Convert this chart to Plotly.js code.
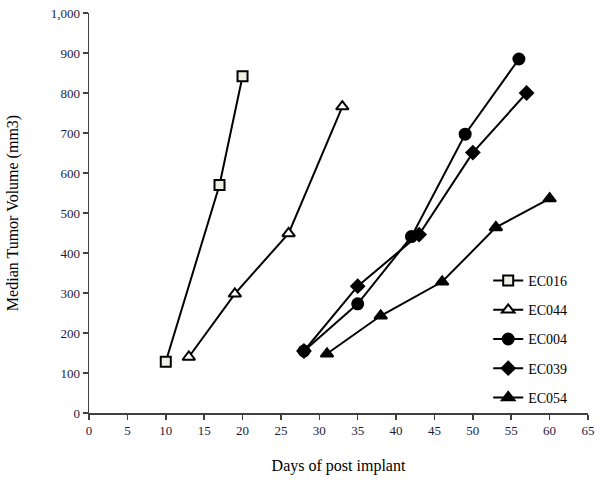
<!DOCTYPE html>
<html>
<head>
<meta charset="utf-8">
<script src="https://cdn.plot.ly/plotly-3.0.1.min.js"></script>
<style>html,body{margin:0;padding:0;background:#fff;}#chart{width:600px;height:486px;}</style>
</head>
<body>
<div id="chart"></div>
<script>
const seriesNames = ["EC016", "EC044", "EC004", "EC039", "EC054"];
const daysEC016 = [10, 17, 20];
const volEC016 = [128, 570, 842];
const daysEC044 = [13, 19, 26, 33];
const volEC044 = [140, 298, 449, 766];
const daysEC004 = [28, 35, 42, 49, 56];
const volEC004 = [155, 273, 441, 697, 885];
const daysEC039 = [28, 35, 43, 50, 57];
const volEC039 = [155, 317, 446, 651, 800];
const daysEC054 = [31, 38, 46, 53, 60];
const volEC054 = [148, 243, 328, 464, 536];
const xTicks = [0, 5, 10, 15, 20, 25, 30, 35, 40, 45, 50, 55, 60, 65];
const yTicks = [0, 100, 200, 300, 400, 500, 600, 700, 800, 900, 1000];

const xs = [daysEC016, daysEC044, daysEC004, daysEC039, daysEC054];
const ys = [volEC016, volEC044, volEC004, volEC039, volEC054];
const symbols = ["square", "triangle-up", "circle", "diamond", "triangle-up"];
const fills = ["#f0f0e4", "#ffffff", "#000000", "#000000", "#000000"];
const sizes = [10, 11, 11, 10, 11];

const traces = seriesNames.map((n, i) => ({
  type: "scatter",
  mode: "lines+markers",
  name: n,
  legendgroup: n,
  x: xs[i],
  y: ys[i],
  line: {color: "#000000", width: 2},
  marker: {symbol: symbols[i], size: sizes[i], color: fills[i], line: {color: "#000000", width: 2}}
}));

const layout = {
  width: 600,
  height: 486,
  margin: {l: 89, r: 12, t: 13, b: 73},
  paper_bgcolor: "#ffffff",
  plot_bgcolor: "#ffffff",
  font: {family: "Liberation Serif, Times New Roman, serif", color: "#000000"},
  xaxis: {
    range: [0, 65],
    tickvals: xTicks,
    ticks: "outside",
    ticklen: 5,
    tickwidth: 1.5,
    tickcolor: "#404040",
    showline: true,
    linecolor: "#404040",
    linewidth: 1.5,
    showgrid: false,
    zeroline: false,
    tickfont: {size: 13, color: "#1a1a40"},
    title: {text: "Days of post implant", font: {size: 16, color: "#000000"}, standoff: 22}
  },
  yaxis: {
    range: [0, 1000],
    tickvals: yTicks,
    tickformat: ",d",
    ticks: "outside",
    ticklen: 5,
    tickwidth: 1.5,
    tickcolor: "#404040",
    showline: true,
    linecolor: "#404040",
    linewidth: 1.5,
    showgrid: false,
    zeroline: false,
    tickfont: {size: 13, color: "#1a1a40"},
    title: {text: "Median Tumor Volume (mm3)", font: {size: 16, color: "#000000"}, standoff: 28}
  },
  showlegend: true,
  legend: {
    x: 0.8, y: 0.37, xanchor: "left", yanchor: "top",
    bgcolor: "rgba(0,0,0,0)",
    font: {size: 14, color: "#000000"},
    traceorder: "grouped",
    tracegroupgap: 8
  }
};

Plotly.newPlot("chart", traces, layout, {displayModeBar: false, staticPlot: true});
</script>
</body>
</html>
